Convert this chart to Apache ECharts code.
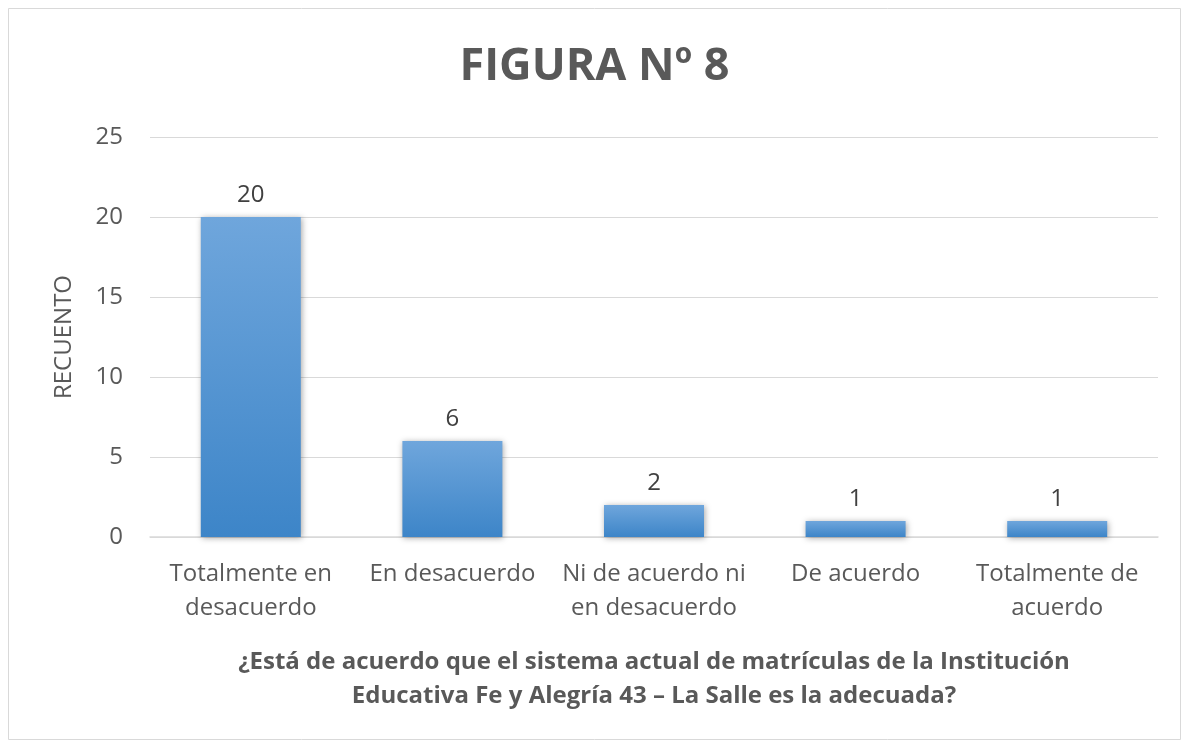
<!DOCTYPE html>
<html>
<head>
<meta charset="utf-8">
<script src="https://cdn.jsdelivr.net/npm/echarts@6/dist/echarts.min.js"></script>
<style>
  html, body { margin: 0; padding: 0; background: #fff; }
  #chart { width: 1189px; height: 747px; }
</style>
</head>
<body>
<div id="chart"></div>
<script>
const categories = [
  'Totalmente en\ndesacuerdo',
  'En desacuerdo',
  'Ni de acuerdo ni\nen desacuerdo',
  'De acuerdo',
  'Totalmente de\nacuerdo'
];
const counts = [20, 6, 2, 1, 1];
const yTicks = { min: 0, max: 25, interval: 5 };

const chart = echarts.init(document.getElementById('chart'));
const font = "'Open Sans', 'Liberation Sans', sans-serif";

chart.setOption({
  animation: false,
  backgroundColor: '#fff',
  graphic: [{
    type: 'rect',
    shape: { x: 8.5, y: 8.5, width: 1172, height: 731 },
    style: { fill: 'none', stroke: '#d9d9d9', lineWidth: 1 },
    silent: true
  }],
  title: {
    text: 'FIGURA Nº 8',
    left: 'center',
    top: 40,
    textStyle: { fontFamily: font, fontWeight: 'bold', fontSize: 45, color: '#595959' }
  },
  grid: { left: 150, right: 31, top: 137, bottom: 210 },
  xAxis: {
    type: 'category',
    data: categories,
    name: '¿Está de acuerdo que el sistema actual de matrículas de la Institución\nEducativa Fe y Alegría 43 – La Salle es la adecuada?',
    nameLocation: 'middle',
    nameGap: 108,
    nameTextStyle: { fontFamily: font, fontWeight: 'bold', fontSize: 24, color: '#595959', lineHeight: 34 },
    axisLine: { lineStyle: { color: '#d9d9d9', width: 1.5 } },
    axisTick: { show: false },
    axisLabel: { fontFamily: font, fontSize: 24, color: '#595959', lineHeight: 34, margin: 20, interval: 0 }
  },
  yAxis: {
    type: 'value',
    min: yTicks.min,
    max: yTicks.max,
    interval: yTicks.interval,
    name: 'RECUENTO',
    nameLocation: 'middle',
    nameGap: 74,
    nameTextStyle: { fontFamily: font, fontSize: 24, color: '#595959' },
    axisLine: { show: false },
    axisTick: { show: false },
    axisLabel: { fontFamily: font, fontSize: 24, color: '#595959', margin: 27 },
    splitLine: { lineStyle: { color: '#d9d9d9', width: 1 } }
  },
  series: [{
    type: 'bar',
    data: counts,
    barWidth: 100,
    itemStyle: {
      color: new echarts.graphic.LinearGradient(0, 0, 0, 1, [
        { offset: 0, color: '#6fa6dc' },
        { offset: 1, color: '#3d85c8' }
      ]),
      shadowColor: 'rgba(0,0,0,0.35)',
      shadowBlur: 6,
      shadowOffsetX: 1,
      shadowOffsetY: 1
    },
    label: {
      show: true,
      position: 'top',
      distance: 10,
      fontFamily: font,
      fontSize: 24,
      color: '#404040'
    }
  }]
});
</script>
</body>
</html>
